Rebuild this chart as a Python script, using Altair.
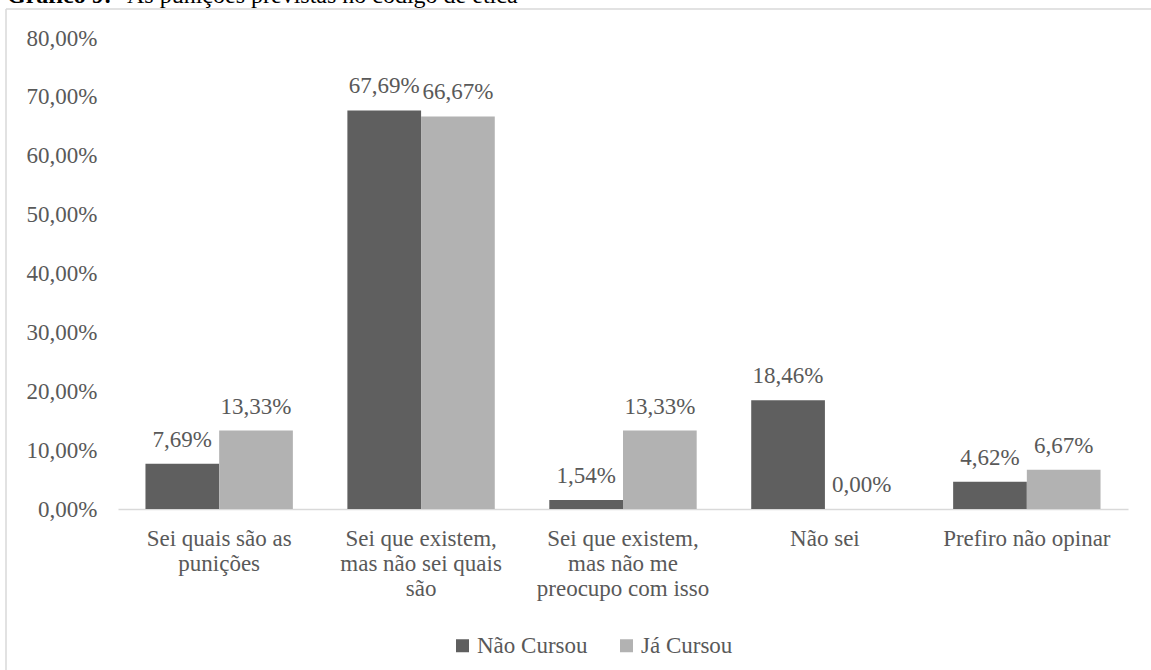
import altair as alt
import pandas as pd

# ---- data ----
categorias = [
    "Sei quais são as|punições",
    "Sei que existem,|mas não sei quais|são",
    "Sei que existem,|mas não me|preocupo com isso",
    "Não sei",
    "Prefiro não opinar",
]
series = ["Não Cursou", "Já Cursou"]
nao_cursou = [7.69, 67.69, 1.54, 18.46, 4.62]
ja_cursou = [13.33, 66.67, 13.33, 0.00, 6.67]
y_ticks = [0, 10, 20, 30, 40, 50, 60, 70, 80]
titulo_negrito = "Gráfico 9:"
titulo_resto = "As punições previstas no código de ética"

rows = []
for c, a, b in zip(categorias, nao_cursou, ja_cursou):
    rows.append({"cat": c, "serie": series[0], "v": a})
    rows.append({"cat": c, "serie": series[1], "v": b})
df = pd.DataFrame(rows)

FONT = "Liberation Serif, Times New Roman, serif"
TXT = "#595959"
FS = 23
W, H = 1010, 471
PAD_L, PAD_T = 118, 38

x_enc = alt.X(
    "cat:N",
    sort=categorias,
    scale=alt.Scale(paddingInner=0.27, paddingOuter=0.136),
    axis=alt.Axis(
        title=None,
        labelAngle=0,
        labelExpr="split(datum.label, '|')",
        labelFont=FONT,
        labelFontSize=FS,
        labelColor=TXT,
        labelLineHeight=25,
        labelPadding=18,
        labelBaseline="top",
        ticks=False,
        tickSize=0,
        domainColor="#d9d9d9",
        domainWidth=1.5,
        labelLimit=300,
    ),
)
xoff = alt.XOffset("serie:N", sort=series, scale=alt.Scale(domain=series, paddingInner=0))
y_enc = alt.Y(
    "v:Q",
    scale=alt.Scale(domain=[0, 80], nice=False),
    axis=alt.Axis(
        title=None,
        values=y_ticks,
        labelExpr="replace(format(datum.value, '.2f'), '.', ',') + '%'",
        labelFont=FONT,
        labelFontSize=FS,
        labelColor=TXT,
        labelPadding=21,
        ticks=False,
        tickSize=0,
        domain=False,
        grid=False,
    ),
)
color_enc = alt.Color(
    "serie:N",
    sort=series,
    scale=alt.Scale(domain=series, range=["#5f5f5f", "#b2b2b2"]),
    legend=alt.Legend(
        title=None,
        orient="none",
        legendX=333,
        legendY=596,
        direction="horizontal",
        symbolType="square",
        symbolSize=169,
        symbolStrokeWidth=0,
        symbolOpacity=1,
        labelFont=FONT,
        labelFontSize=FS,
        labelColor=TXT,
        labelOffset=3,
        columnPadding=27,
    ),
)

base = alt.Chart(df)
bars = base.mark_bar().encode(x=x_enc, xOffset=xoff, y=y_enc, color=color_enc)
labels = base.transform_calculate(
    lbl="replace(format(datum.v, '.2f'), '.', ',') + '%'"
).mark_text(
    font=FONT, fontSize=FS, color=TXT, baseline="alphabetic", align="center", dy=-17
).encode(x=alt.X("cat:N", sort=categorias), xOffset=alt.XOffset("serie:N", sort=series), y="v:Q", text="lbl:N")

one = pd.DataFrame({"k": [0]})
frame_v = alt.Chart(one).mark_rule(color="#d9d9d9", strokeWidth=1.5).encode(
    x=alt.value(6 - PAD_L), y=alt.value(9 - PAD_T), y2=alt.value(670 - PAD_T)
)
frame_h = alt.Chart(one).mark_rule(color="#d9d9d9", strokeWidth=1.5).encode(
    x=alt.value(6 - PAD_L), x2=alt.value(1151 - PAD_L), y=alt.value(9 - PAD_T)
)
t1 = alt.Chart(one).mark_text(
    text=titulo_negrito, font=FONT, fontSize=24, fontWeight="bold", color="#000000",
    align="left", baseline="alphabetic"
).encode(x=alt.value(7 - PAD_L), y=alt.value(3 - PAD_T))
t2 = alt.Chart(one).mark_text(
    text=titulo_resto, font=FONT, fontSize=24, color="#000000",
    align="left", baseline="alphabetic"
).encode(x=alt.value(127 - PAD_L), y=alt.value(3 - PAD_T))

chart = alt.layer(frame_v, frame_h, bars, labels, t1, t2).properties(
    width=W,
    height=H,
    autosize=alt.AutoSizeParams(type="none"),
    padding={"left": PAD_L, "top": PAD_T, "right": 1151 - PAD_L - W, "bottom": 670 - PAD_T - H},
    background="white",
).configure_view(stroke=None)

chart.save("out.html", embed_options={"renderer": "svg", "actions": False})
